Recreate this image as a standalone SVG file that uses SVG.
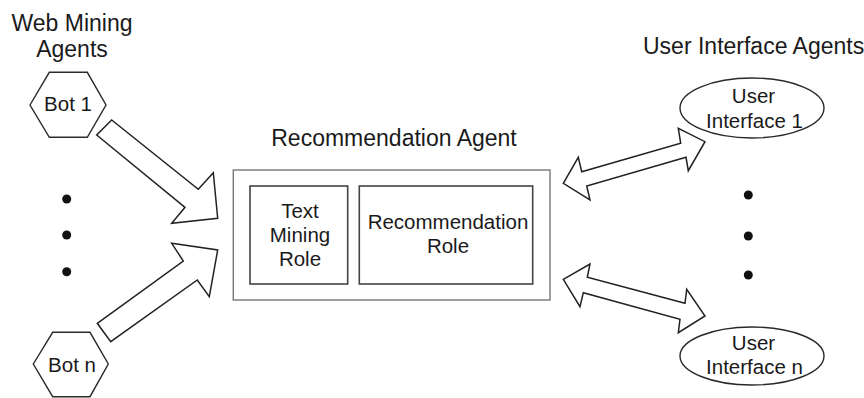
<svg xmlns="http://www.w3.org/2000/svg" width="864" height="398" viewBox="0 0 864 398">
<style>
.t{font-family:"Liberation Sans",Arial,sans-serif;fill:#1a1a1a;text-anchor:middle}
.title{font-size:23px}
.lbl{font-size:20.5px}
.shape{fill:#fff;stroke:#2a2a2a;stroke-width:1.4}
.arrow{fill:#fff;stroke:#222;stroke-width:1.5;stroke-linejoin:miter}
.dot{fill:#111}
</style>
<rect width="864" height="398" fill="#fff"/>
<g id="titles">
<text class="t title" x="72" y="31">Web Mining</text>
<text class="t title" x="72" y="57">Agents</text>
<text class="t title" x="394" y="146">Recommendation Agent</text>
<text class="t title" x="643" y="54" style="text-anchor:start">User Interface Agents</text>
</g>
<g id="bot1">
<polygon class="shape" points="30,105 49.3,72.3 87.3,72.3 106,105 87.3,137.3 49.3,137.3"/>
<text class="t lbl" x="68" y="111">Bot 1</text>
</g>
<g id="botn">
<polygon class="shape" points="33.3,364 52.7,332.3 90,332.3 108.3,364 90,396.7 52.7,396.7"/>
<text class="t lbl" x="72" y="372">Bot n</text>
</g>
<g id="left-dots">
<circle class="dot" cx="66.7" cy="199" r="4.5"/>
<circle class="dot" cx="66.7" cy="235" r="4.5"/>
<circle class="dot" cx="66.7" cy="271.7" r="4.5"/>
</g>
<g id="recommendation-agent">
<rect x="233.3" y="170" width="316.7" height="130" fill="#fff" stroke="#777" stroke-width="1.4"/>
<g id="text-mining-role">
<rect x="250" y="186" width="97.7" height="98" fill="#fff" stroke="#444" stroke-width="1.6"/>
<text class="t lbl" x="300" y="217.5">Text</text>
<text class="t lbl" x="300" y="241.8">Mining</text>
<text class="t lbl" x="300" y="266">Role</text>
</g>
<g id="recommendation-role">
<rect x="359.3" y="186" width="173.4" height="98" fill="#fff" stroke="#444" stroke-width="1.6"/>
<text class="t lbl" x="448" y="229">Recommendation</text>
<text class="t lbl" x="448" y="253">Role</text>
</g>
</g>
<g id="ui1">
<ellipse class="shape" cx="752" cy="108" rx="72" ry="30"/>
<text class="t lbl" x="753.5" y="102.5">User</text>
<text class="t lbl" x="754.5" y="127.5">Interface 1</text>
</g>
<g id="uin">
<ellipse class="shape" cx="752" cy="356" rx="72" ry="29"/>
<text class="t lbl" x="753.5" y="349.5">User</text>
<text class="t lbl" x="754.5" y="374">Interface n</text>
</g>
<g id="right-dots">
<circle class="dot" cx="748.3" cy="195" r="4.5"/>
<circle class="dot" cx="748.3" cy="236" r="4.5"/>
<circle class="dot" cx="748.3" cy="275" r="4.5"/>
</g>
<g id="connectors">
<polygon class="arrow" points="111.7,120 198.3,189.3 213.3,172.7 217.7,218.3 171.7,223.3 185,207.3 96.7,135"/>
<polygon class="arrow" points="97.3,323.3 183.3,261 171.7,243.3 217.7,250 209.3,296.7 197.3,280 110.7,341.7"/>
<polygon class="arrow" points="563.3,183.3 578.3,157.3 581.7,171.7 680.7,143.3 678.3,128.3 705,141.7 688.3,170.7 686,157.3 586.7,186 590,200"/>
<polygon class="arrow" points="563.3,279.3 590,264 587.3,277.3 685,303.3 686.7,289.3 705,316 678.3,332.7 680,319.3 583.3,292.7 580,306.7"/>
</g>
</svg>
